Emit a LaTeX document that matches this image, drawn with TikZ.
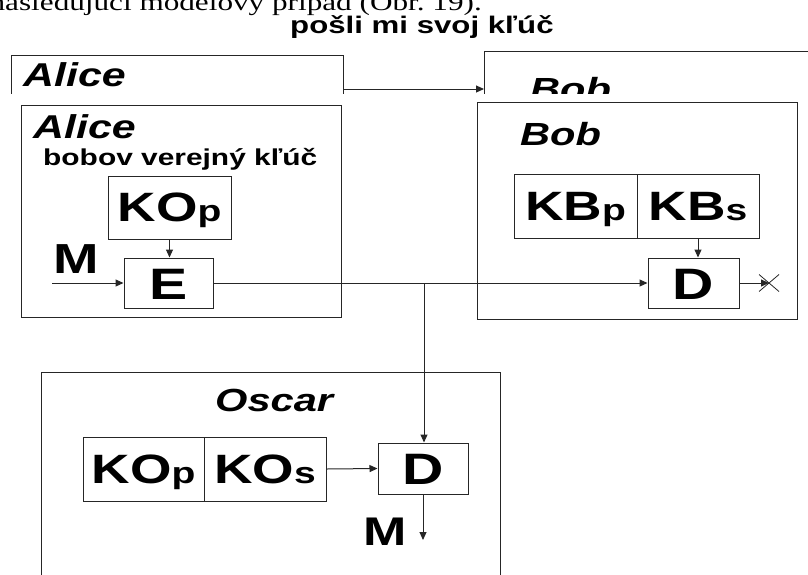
\documentclass[tikz,border=0pt]{standalone}
\usepackage{fontspec}
\setmainfont{Liberation Sans}[FakeStretch=1.3]
\newfontfamily\topserif{Liberation Serif}[FakeStretch=1.3]
\usetikzlibrary{arrows.meta}
\newcommand{\fsz}[1]{\fontsize{#1}{#1}\selectfont}
\newcommand{\ksub}[1]{{\fsz{30}#1}}
\begin{document}
\begin{tikzpicture}[x=1pt,y=-1pt,
  box/.style={draw=black!85, line width=1pt, inner sep=0pt},
  conn/.style={draw=black!85, line width=1pt, -{Triangle[length=8pt,width=7pt]}},
  plain/.style={draw=black!85, line width=1pt},
  lbl/.style={inner sep=0pt, anchor=base west},
  persona/.style={lbl, font=\fsz{32}\bfseries\itshape},
  keytxt/.style={font=\fsz{41}\bfseries, text height=28pt, text depth=0pt},
  optxt/.style={font=\fsz{44}\bfseries, text height=32pt, text depth=0pt}]
\useasboundingbox (0,0) rectangle (808,574);
\clip (0,0) rectangle (808,574);
% top strip (partially covered figure)
\begin{scope}
  \clip (0,0) rectangle (808,93);
  \node[lbl, anchor=base east, font=\topserif\fsz{24}] (intro) at (482,10) {nasledujúci modelový prípad (Obr.~19).};
  \node[persona, font=\fsz{33}\bfseries\itshape] (topalice) at (23,86) {Alice};
  \node[persona] (topbob) at (530,100) {Bob};
  \draw[plain] (11,100) -- (11,55) -- (343,55) -- (343,100);
  \draw[plain] (484,100) -- (484,51) -- (820,51);
  \coordinate (ta) at (343,89);
  \coordinate (tb) at (484,89);
  \draw[conn] (ta) -- (tb);
\end{scope}
\node[lbl, font=\fsz{24}\bfseries] (head) at (290,33) {pošli mi svoj kľúč};
% frames
\node[box, minimum width=320pt, minimum height=212pt] (alice) at (181,211) {};
\node[box, minimum width=320pt, minimum height=217pt] (bob) at (637,210.5) {};
\node[box, minimum width=459pt, minimum height=240pt] (oscar) at (270.5,492) {};
% labels
\node[persona, font=\fsz{33}\bfseries\itshape] (alicename) at (33,138) {Alice};
\node[lbl, font=\fsz{23}\bfseries] (pubkey) at (43,165) {bobov verejný kľúč};
\node[persona] (bobname) at (520,145) {Bob};
\node[persona] (oscarname) at (215,411) {Oscar};
\node[lbl, font=\fsz{42}\bfseries] (m1) at (53,273) {M};
\node[lbl, font=\fsz{40}\bfseries] (m2) at (363,545) {M};
% boxes
\node[box, keytxt, minimum width=123pt, minimum height=63pt] (kop) at (169.5,207.5) {KO\ksub{p}};
\node[box, optxt, minimum width=89pt, minimum height=50pt] (enc) at (168.5,283) {E};
\node[box, keytxt, minimum width=123pt, minimum height=64pt] (kbp) at (575.5,206) {KB\ksub{p}};
\node[box, keytxt, minimum width=122pt, minimum height=64pt] (kbs) at (698,206) {KB\ksub{s}};
\node[box, optxt, minimum width=91pt, minimum height=50pt] (dbob) at (693.5,283) {D};
\node[box, keytxt, minimum width=121pt, minimum height=64pt] (kop2) at (143.5,469) {KO\ksub{p}};
\node[box, keytxt, minimum width=122pt, minimum height=64pt] (kos) at (265,469) {KO\ksub{s}};
\node[box, optxt, minimum width=90pt, minimum height=51pt] (dosc) at (423,468.5) {D};
% connectors
\coordinate (min) at (52,283);
\draw[conn] (min) -- (enc.west);
\draw[conn] (kop.south) -- (kop.south |- enc.north);
\draw[conn] (enc.east) -- (dbob.west);
\coordinate (split) at (424,283);
\draw[conn] (split) -- (split |- dosc.north);
\draw[conn] (kbs.south) -- (kbs.south |- dbob.north);
\coordinate (lost) at (769,283);
\draw[conn] (dbob.east) -- (lost);
\draw[plain, line width=0.8pt] (lost) ++(-10,-8.5) -- ++(20,17);
\draw[plain, line width=0.8pt] (lost) ++(-10,8.5) -- ++(20,-17);
\draw[conn] (kos.east) -- (dosc.west);
\coordinate (mout) at (425,540);
\draw[conn] (dosc.south) -- (dosc.south |- mout);
\end{tikzpicture}
\end{document}
